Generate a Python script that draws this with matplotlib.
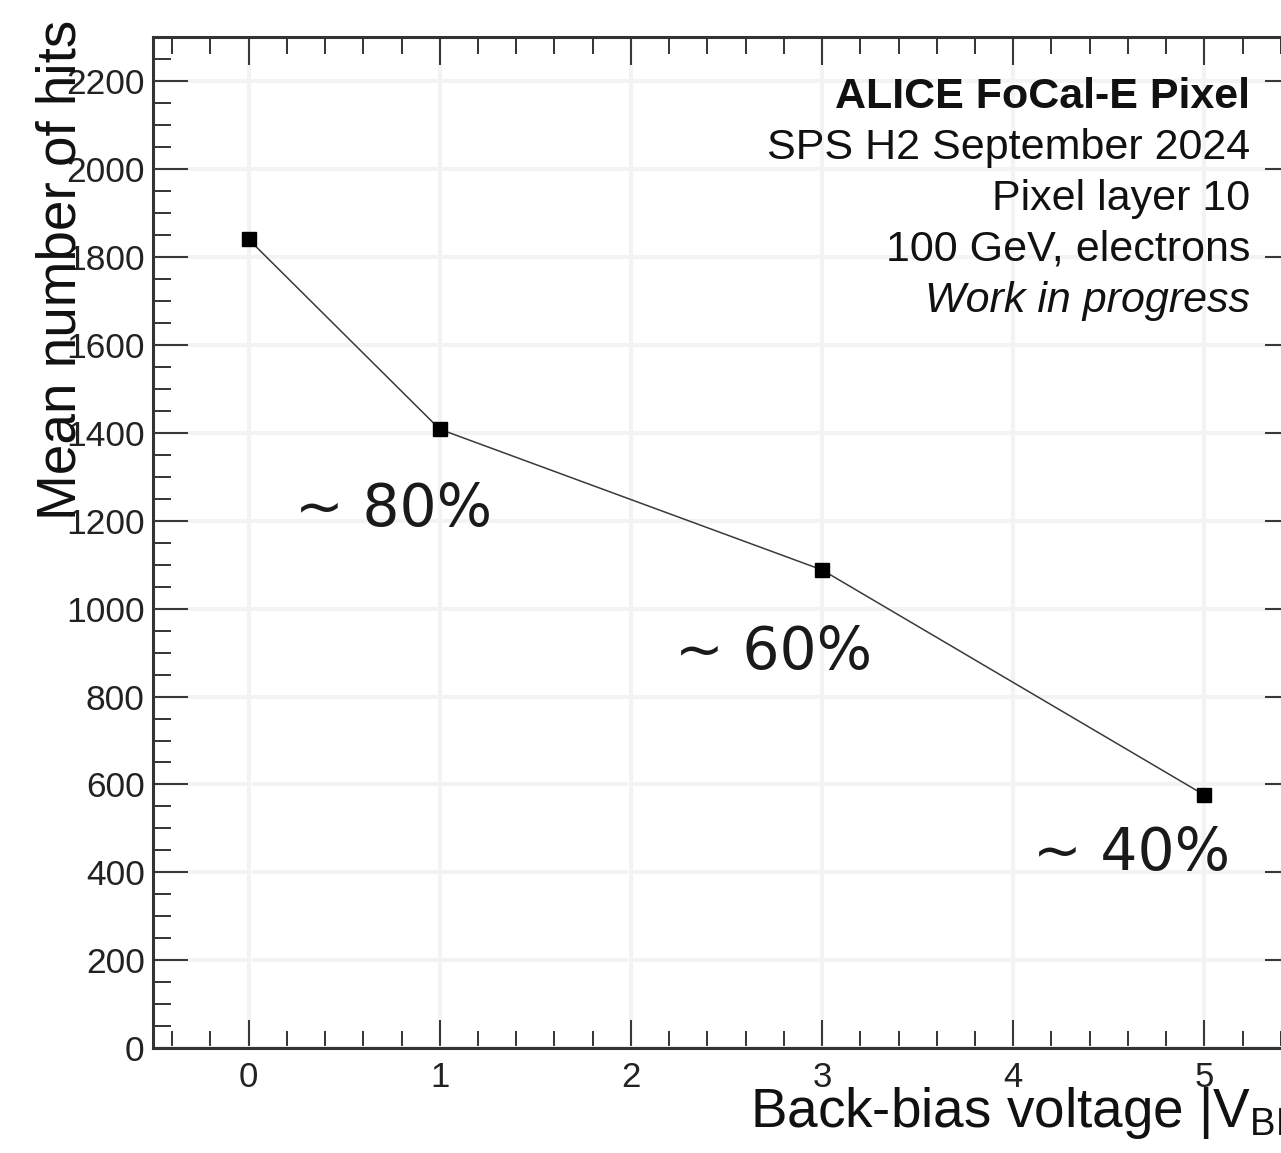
import matplotlib
matplotlib.use("Agg")
import matplotlib.pyplot as plt
from matplotlib.ticker import MultipleLocator

# ---- data ----
voltages = [0, 1, 3, 5]
mean_hits = [1840, 1408, 1088, 576]
annot_texts = ["~ 80%", "~ 60%", "~ 40%"]
info_lines = ["ALICE FoCal-E Pixel", "SPS H2 September 2024", "Pixel layer 10",
              "100 GeV, electrons", "Work in progress"]
xlabel = r"Back-bias voltage $|\mathregular{V_{BB}}|$ (V)"
ylabel = "Mean number of hits"

plt.rcParams['font.family'] = ['Liberation Sans', 'DejaVu Sans']
plt.rcParams['mathtext.fontset'] = 'custom'
plt.rcParams['mathtext.rm'] = 'Liberation Sans'
plt.rcParams['mathtext.it'] = 'Liberation Sans:italic'

W, H = 1281, 1153
fig = plt.figure(figsize=(W / 100, H / 100), dpi=100)
ax = fig.add_axes([153 / W, (H - 1048.3) / H, (1300 - 153) / W, (1048.3 - 37) / H])

ax.set_xlim(-0.5, 5.5)
ax.set_ylim(0, 2300)

# grid
ax.grid(True, which='major', color='#f3f3f3', linewidth=3, zorder=0)

ax.plot(voltages, mean_hits, '-', color='#3a3a3a', linewidth=1.1, zorder=3)
ax.plot(voltages, mean_hits, 's', color='black', markersize=10.5, zorder=4)

# ticks
ax.xaxis.set_major_locator(MultipleLocator(1))
ax.xaxis.set_minor_locator(MultipleLocator(0.2))
ax.yaxis.set_major_locator(MultipleLocator(200))
ax.yaxis.set_minor_locator(MultipleLocator(50))
tc = '#333333'
ax.tick_params(axis='both', which='both', direction='in', top=True, right=True,
               color=tc, width=1.4)
ax.tick_params(axis='x', which='major', length=20, labelsize=25, pad=9, labelcolor='#222222')
ax.tick_params(axis='x', which='minor', length=12)
ax.tick_params(axis='y', which='major', length=25, labelsize=25.5, pad=6, labelcolor='#222222')
ax.tick_params(axis='y', which='minor', length=13)
for s in ax.spines.values():
    s.set_linewidth(2.2)
    s.set_color(tc)

# annotations
annot_pos = [(0.242, 1187), (2.23, 862), (4.103, 406)]
for t, (x, y) in zip(annot_texts, annot_pos):
    ax.text(x, y, t, fontsize=42, family='DejaVu Sans', color='#1a1a1a',
            ha='left', va='baseline', zorder=5)

# info block
baselines = [108, 159, 210, 261, 312]
for i, (line, yb) in enumerate(zip(info_lines, baselines)):
    kw = {}
    if i == 0:
        kw['fontweight'] = 'bold'
    if i == len(info_lines) - 1:
        kw['fontstyle'] = 'italic'
    fig.text(1250 / W, (H - yb) / H, line, fontsize=31, ha='right', va='baseline',
             color='#111111', **kw)

# axis titles
fig.text(750 / W, (H - 1127) / H, xlabel, fontsize=39.5, ha='left', va='baseline',
         color='#111111')
fig.text(36 / W, (H - 20) / H, ylabel, fontsize=39.5, rotation=90, ha='left', va='top',
         color='#111111')

fig.savefig('out.png', dpi=100)
